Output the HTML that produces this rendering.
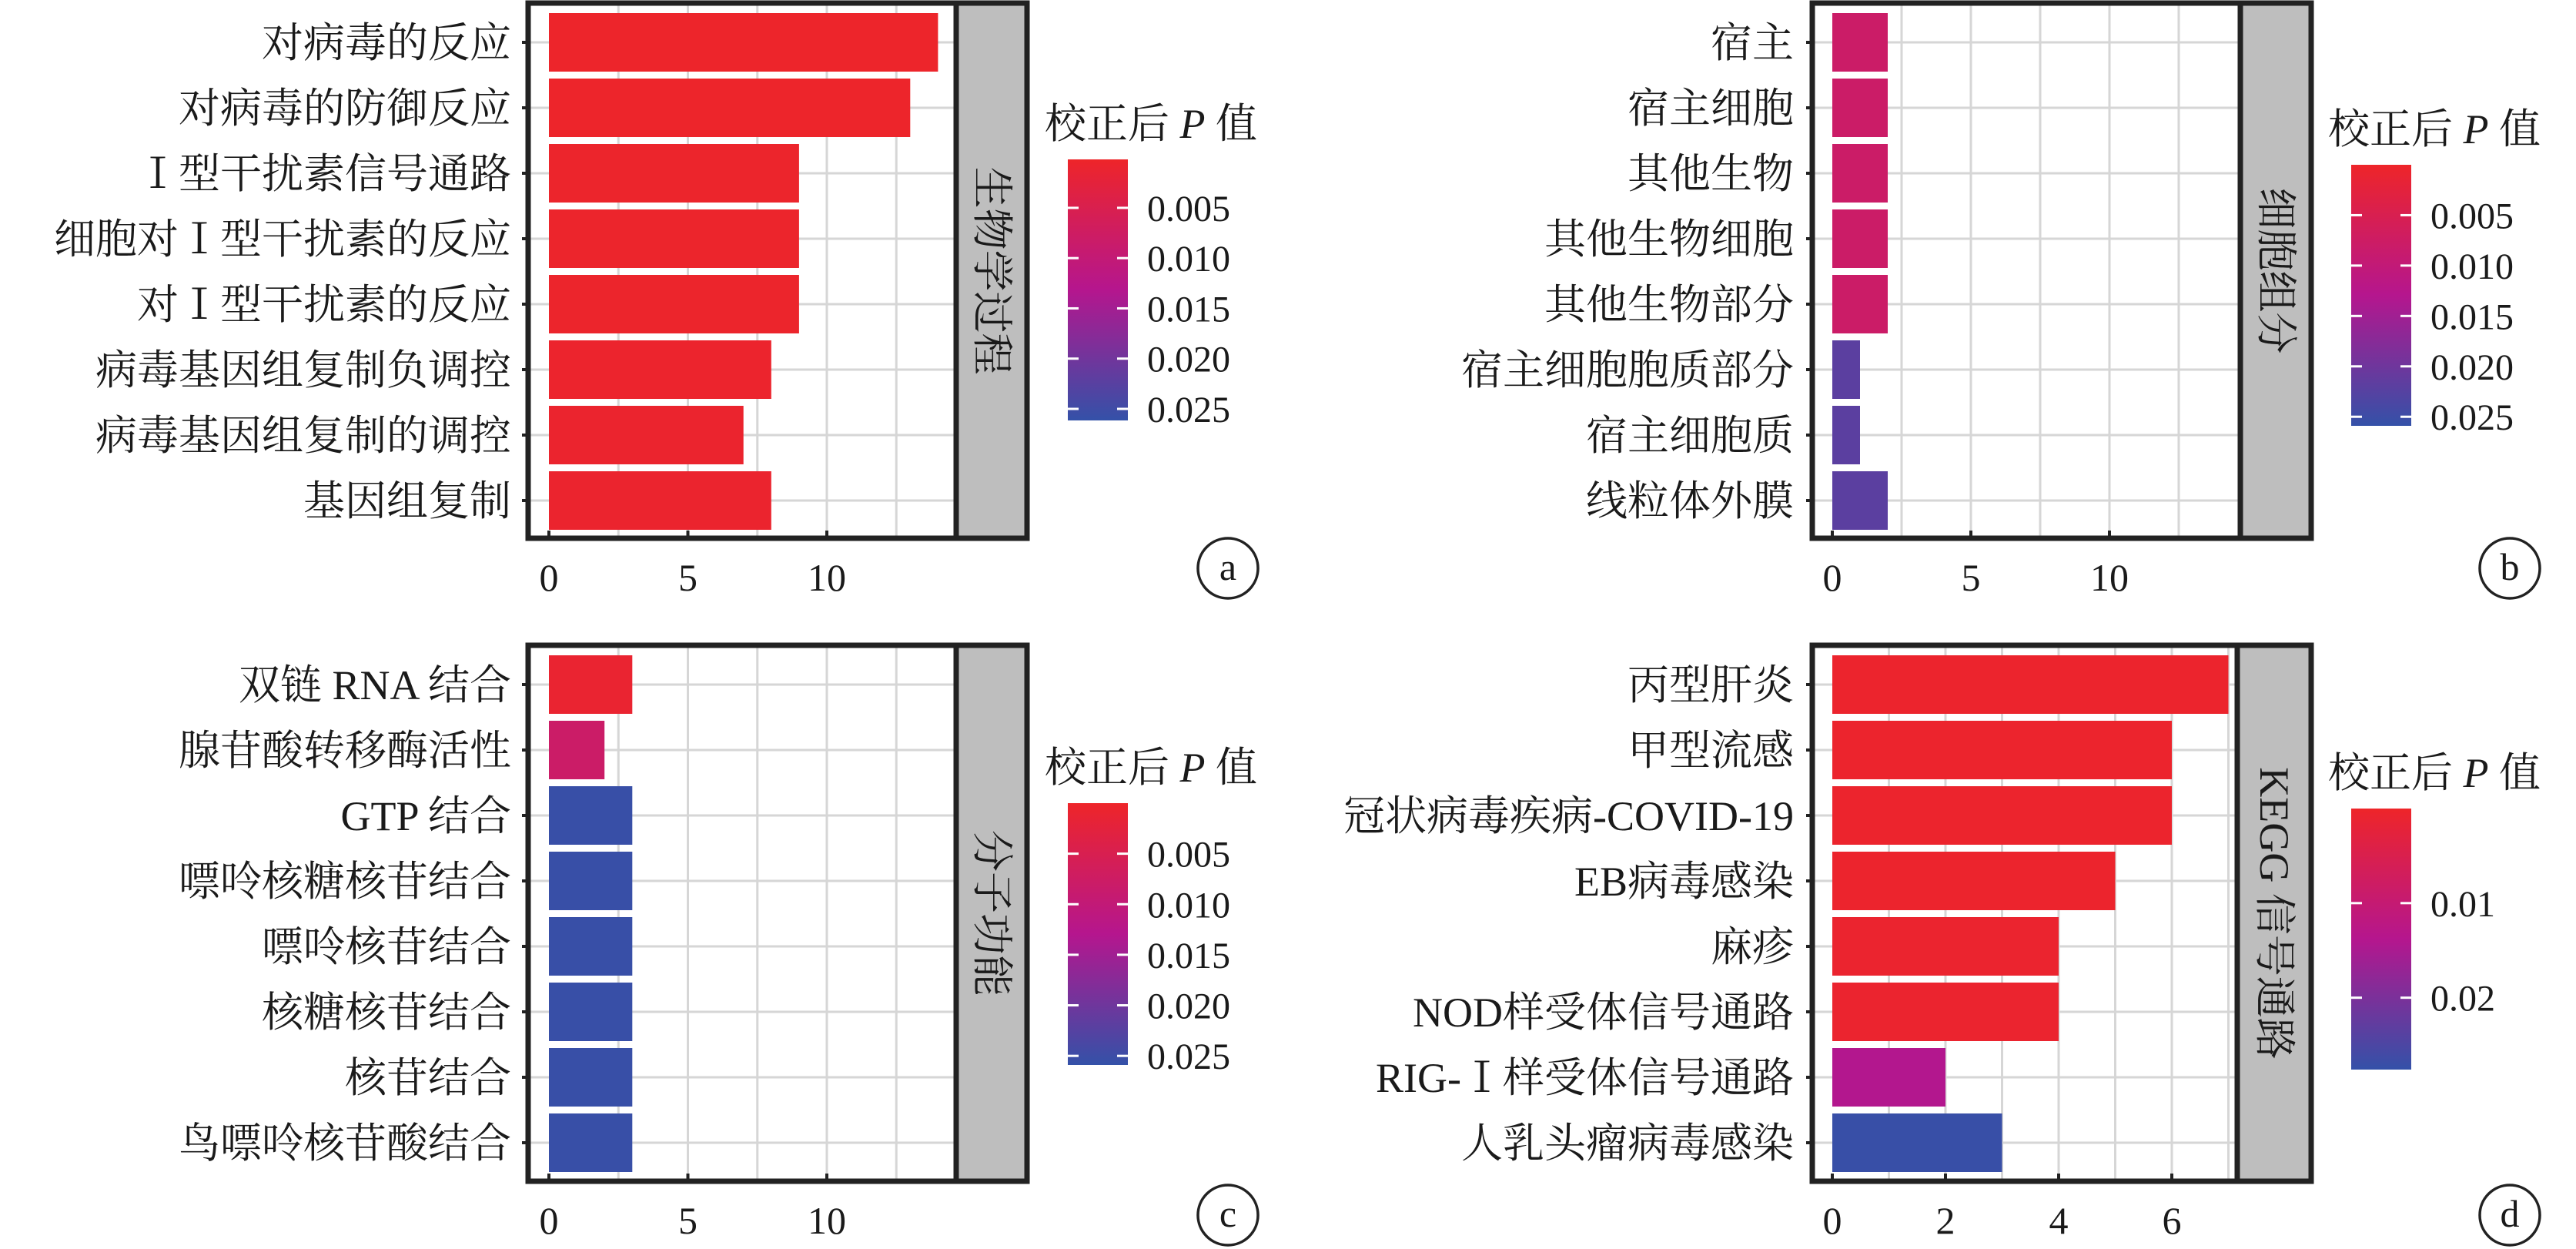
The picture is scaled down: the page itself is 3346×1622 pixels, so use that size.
<!DOCTYPE html>
<html><head><meta charset="utf-8">
<style>
html,body{margin:0;padding:0;background:#fff;}
svg{display:block;}
text{font-family:"Liberation Serif","Noto Serif CJK SC",serif;fill:#1a1a1a;}
</style></head>
<body>
<svg id="chart" width="3346" height="1622" viewBox="0 0 3346 1622" xmlns="http://www.w3.org/2000/svg">
<defs>
<linearGradient id="pgrad" x1="0" y1="0" x2="0" y2="1">
<stop offset="0" stop-color="#EE2529"/>
<stop offset="0.5" stop-color="#B5168E"/>
<stop offset="1" stop-color="#3451A8"/>
</linearGradient>
</defs>
</svg>
<script>
// Panel a: 生物学过程
const catsA = ["对病毒的反应","对病毒的防御反应","Ⅰ型干扰素信号通路","细胞对Ⅰ型干扰素的反应","对Ⅰ型干扰素的反应","病毒基因组复制负调控","病毒基因组复制的调控","基因组复制"];
const valsA = [14,13,9,9,9,8,7,8];
const pA = [0.0005,0.0005,0.0006,0.0006,0.0006,0.0007,0.0008,0.0008];
const ticksA = [0,5,10];
const legTicksA = [0.005,0.010,0.015,0.020,0.025];
const legLabelsA = ["0.005","0.010","0.015","0.020","0.025"];
// Panel b: 细胞组分
const catsB = ["宿主","宿主细胞","其他生物","其他生物细胞","其他生物部分","宿主细胞胞质部分","宿主细胞质","线粒体外膜"];
const valsB = [2,2,2,2,2,1,1,2];
const pB = [0.008,0.008,0.008,0.008,0.008,0.022,0.022,0.022];
const ticksB = [0,5,10];
const legTicksB = [0.005,0.010,0.015,0.020,0.025];
const legLabelsB = ["0.005","0.010","0.015","0.020","0.025"];
// Panel c: 分子功能
const catsC = ["双链 RNA 结合","腺苷酸转移酶活性","GTP 结合","嘌呤核糖核苷结合","嘌呤核苷结合","核糖核苷结合","核苷结合","鸟嘌呤核苷酸结合"];
const valsC = [3,2,3,3,3,3,3,3];
const pC = [0.001,0.008,0.0255,0.0255,0.0255,0.0255,0.0255,0.0255];
const ticksC = [0,5,10];
const legTicksC = [0.005,0.010,0.015,0.020,0.025];
const legLabelsC = ["0.005","0.010","0.015","0.020","0.025"];
// Panel d: KEGG 信号通路
const catsD = ["丙型肝炎","甲型流感","冠状病毒疾病-COVID-19","EB病毒感染","麻疹","NOD样受体信号通路","RIG-Ⅰ样受体信号通路","人乳头瘤病毒感染"];
const valsD = [7,6,6,5,4,4,2,3];
const pD = [0.0005,0.0005,0.0005,0.0006,0.0008,0.0008,0.014,0.0272];
const ticksD = [0,2,4,6];
const legTicksD = [0.01,0.02];
const legLabelsD = ["0.01","0.02"];

const NS = "http://www.w3.org/2000/svg";
const svg = document.getElementById("chart");
function mk(tag, attrs, parent){
  const e = document.createElementNS(NS, tag);
  for (const k in attrs) e.setAttribute(k, attrs[k]);
  (parent||svg).appendChild(e);
  return e;
}
function lerp(a,b,t){return a+(b-a)*t;}
function hex(c){return [parseInt(c.slice(1,3),16),parseInt(c.slice(3,5),16),parseInt(c.slice(5,7),16)];}
const cR=hex("#EE2529"), cM=hex("#B5168E"), cB=hex("#3451A8");
function pColor(p,min,max){
  let t=(p-min)/(max-min); t=Math.max(0,Math.min(1,t));
  let a,b,u; if(t<0.5){a=cR;b=cM;u=t/0.5;}else{a=cM;b=cB;u=(t-0.5)/0.5;}
  return "rgb("+[0,1,2].map(i=>Math.round(lerp(a[i],b[i],u))).join(",")+")";
}

function panel(cfg){
  const g = mk("g",{});
  
  
  const xs = v => cfg.x0 + v*cfg.unit;
  const ys = i => cfg.top + 51 + i*85;
  // background grid
  const grid = mk("g",{},g);
  
  
  const step = cfg.ticks[1]-cfg.ticks[0];
  for (let v=0; xs(v) < cfg.plotR; v+=step/2){
    if (v===0) continue;
    mk("line",{x1:xs(v),x2:xs(v),y1:cfg.top,y2:cfg.bottom,stroke:"#D6D6D6","stroke-width":3},grid);
  }
  cfg.cats.forEach((c,i)=>{
    mk("line",{x1:cfg.plotL,x2:cfg.plotR,y1:ys(i),y2:ys(i),stroke:"#D6D6D6","stroke-width":3},grid);
  });
  // bars
  cfg.vals.forEach((v,i)=>{
    const r = mk("rect",{x:xs(0),y:ys(i)-38,width:xs(v)-xs(0),height:76,fill:pColor(cfg.p[i],cfg.pmin,cfg.pmax)},g);
    
    
    const t = mk("text",{x:cfg.labelR,y:ys(i)+19,"text-anchor":"end","font-size":54},g);
    
    
    t.textContent = c = cfg.cats[i];
    mk("line",{x1:cfg.plotL-8,x2:cfg.plotL,y1:ys(i),y2:ys(i),stroke:"#222","stroke-width":4},g);
  });
  // strip
  const s = mk("rect",{x:cfg.plotR,y:cfg.top,width:cfg.stripR-cfg.plotR,height:cfg.bottom-cfg.top,fill:"#BEBEBE",stroke:"#222","stroke-width":7},g);
  
  
  const sx=(cfg.plotR+cfg.stripR)/2, sy=(cfg.top+cfg.bottom)/2;
  const st = mk("text",{x:sx,y:sy,"text-anchor":"middle","dominant-baseline":"central","font-size":54,transform:"rotate(90 "+sx+" "+sy+")"},g);
  
  
  st.textContent = cfg.strip;
  // border
  mk("rect",{x:cfg.plotL,y:cfg.top,width:cfg.stripR-cfg.plotL,height:cfg.bottom-cfg.top,fill:"none",stroke:"#222","stroke-width":7},g);
  // x ticks
  cfg.ticks.forEach((v,i)=>{
    mk("line",{x1:xs(v),x2:xs(v),y1:cfg.bottom-10,y2:cfg.bottom,stroke:"#222","stroke-width":4},g);
    const t = mk("text",{x:xs(v),y:cfg.bottom+68,"text-anchor":"middle","font-size":50},g);
    
    
    t.textContent = String(v);
  });
  // legend
  const lg = mk("g",{},g);
  
  
  const lt = mk("text",{x:cfg.legX-30,y:cfg.legTop-28,"font-size":54},lg);
  
  
  lt.innerHTML = '校正后 <tspan font-style="italic">P</tspan> 值';
  mk("rect",{x:cfg.legX,y:cfg.legTop,width:78,height:cfg.legBot-cfg.legTop,fill:"url(#pgrad)"},lg);
  const ly = p => cfg.legTop + (p-cfg.pmin)/(cfg.pmax-cfg.pmin)*(cfg.legBot-cfg.legTop);
  cfg.legTicks.forEach((p,i)=>{
    const y=ly(p);
    mk("line",{x1:cfg.legX,x2:cfg.legX+14,y1:y,y2:y,stroke:"#fff","stroke-width":3},lg);
    mk("line",{x1:cfg.legX+64,x2:cfg.legX+78,y1:y,y2:y,stroke:"#fff","stroke-width":3},lg);
    const t = mk("text",{x:cfg.legX+103,y:y+17,"font-size":48},lg);
    
    
    t.textContent = cfg.legLabels[i];
  });
  // panel letter
  const cg = mk("g",{},g);
  
  
  mk("circle",{cx:cfg.cx,cy:cfg.cy,r:39,fill:"none",stroke:"#222","stroke-width":3.5},cg);
  const ct = mk("text",{x:cfg.cx,y:cfg.cy+15,"text-anchor":"middle","font-size":50},cg);
  ct.textContent = cfg.id;
}

panel({id:"a",name:"panel-a-biological-process",cats:catsA,vals:valsA,p:pA,ticks:ticksA,legTicks:legTicksA,legLabels:legLabelsA,
  strip:"生物学过程",plotL:686,plotR:1242,stripR:1334,top:4,bottom:699,x0:713,unit:36.1,labelR:664,
  pmin:0.00018,pmax:0.02615,legX:1387,legTop:207,legBot:546,cx:1595,cy:738});
panel({id:"b",name:"panel-b-cellular-component",cats:catsB,vals:valsB,p:pB,ticks:ticksB,legTicks:legTicksB,legLabels:legLabelsB,
  strip:"细胞组分",plotL:2354,plotR:2910,stripR:3002,top:4,bottom:699,x0:2380,unit:36.0,labelR:2330,
  pmin:0.0000,pmax:0.0259,legX:3054,legTop:214,legBot:553,cx:3260,cy:738});
panel({id:"c",name:"panel-c-molecular-function",cats:catsC,vals:valsC,p:pC,ticks:ticksC,legTicks:legTicksC,legLabels:legLabelsC,
  strip:"分子功能",plotL:686,plotR:1242,stripR:1334,top:838,bottom:1534,x0:713,unit:36.1,labelR:664,
  pmin:0.0000,pmax:0.0259,legX:1387,legTop:1043,legBot:1383,cx:1595,cy:1578});
panel({id:"d",name:"panel-d-kegg-pathway",cats:catsD,vals:valsD,p:pD,ticks:ticksD,legTicks:legTicksD,legLabels:legLabelsD,
  strip:"KEGG 信号通路",plotL:2354,plotR:2906,stripR:3002,top:838,bottom:1534,x0:2380,unit:73.5,labelR:2330,
  pmin:0.0000,pmax:0.0276,legX:3054,legTop:1050,legBot:1389,cx:3260,cy:1578});
</script>
</body></html>
